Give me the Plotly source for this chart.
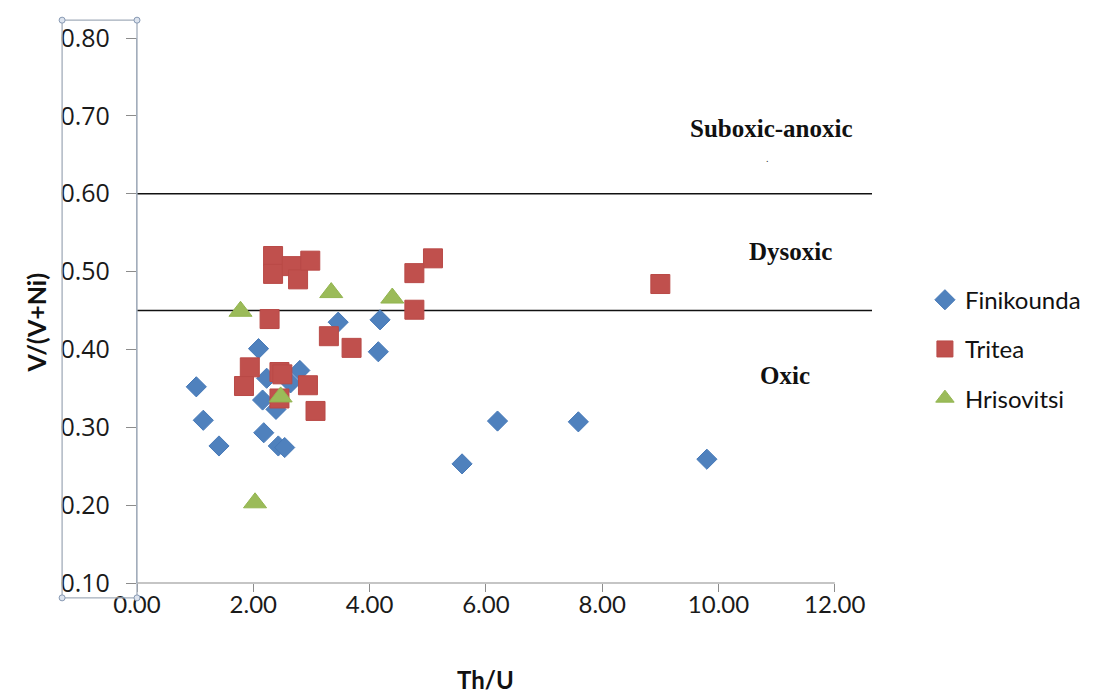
import plotly.graph_objects as go

# ---------------- data ----------------
fin_x = [1.02, 1.14, 1.41, 2.09, 2.16, 2.18, 2.43, 2.54, 2.80, 2.64, 2.23, 2.39, 3.46, 4.18, 4.15, 5.59, 6.20, 7.59, 9.80]
fin_y = [0.352, 0.309, 0.276, 0.401, 0.335, 0.293, 0.276, 0.274, 0.373, 0.357, 0.363, 0.323, 0.435, 0.438, 0.397, 0.253, 0.308, 0.307, 0.259]

tri_x = [2.34, 2.34, 2.66, 2.77, 2.98, 5.09, 4.77, 4.77, 2.28, 3.30, 3.69, 1.94, 1.84, 2.45, 2.50, 2.45, 2.94, 3.07, 9.00]
tri_y = [0.520, 0.497, 0.507, 0.490, 0.514, 0.517, 0.498, 0.451, 0.439, 0.417, 0.402, 0.377, 0.353, 0.371, 0.368, 0.337, 0.354, 0.321, 0.484]

hri_x = [1.78, 3.34, 4.39, 2.47, 2.03]
hri_y = [0.449, 0.473, 0.466, 0.339, 0.203]

thresholds = [0.60, 0.45]
zone_labels = ["Suboxic-anoxic", "Dysoxic", "Oxic"]
zone_x = [10.92, 11.24, 11.14]
zone_y = [0.684, 0.526, 0.367]

x_ticks = [0, 2, 4, 6, 8, 10, 12]
y_ticks = [0.10, 0.20, 0.30, 0.40, 0.50, 0.60, 0.70, 0.80]

# ---------------- figure ----------------
OFF = 8  # page body margin
W, H = 1098 - OFF, 695 - OFF
L, T = 137 - OFF, 33 - OFF
R = W - (873 - OFF)
B = H - (583 - OFF)
plot_w = W - L - R
plot_h = H - T - B


def px_x(p):
    return (p - OFF - L) / plot_w


def px_y(p):
    return (H - B - (p - OFF)) / plot_h


fig = go.Figure()

fig.add_trace(go.Scatter(
    x=fin_x, y=fin_y, mode="markers", name="Finikounda", legendgroup="a",
    marker=dict(symbol="diamond", size=15.5, color="#4F81BD",
                line=dict(color="#4679B8", width=1))))
fig.add_trace(go.Scatter(
    x=tri_x, y=tri_y, mode="markers", name="Tritea", legendgroup="b",
    marker=dict(symbol="square", size=19, color="#C0504D",
                line=dict(color="#B94A47", width=1))))
fig.add_trace(go.Scatter(
    x=hri_x, y=hri_y, mode="markers", name="Hrisovitsi", legendgroup="c",
    marker=dict(symbol="triangle-up", size=20, color="#9BBB59",
                line=dict(color="#93B550", width=1))))

shapes = []
for t in thresholds:
    shapes.append(dict(type="line", xref="x", yref="y", x0=0, x1=12.64, y0=t, y1=t,
                       line=dict(color="#111111", width=1.5), layer="below"))
# x axis line (ends at 12)
shapes.append(dict(type="line", xref="x", yref="paper", x0=0, x1=12, y0=0, y1=0,
                   line=dict(color="#8C8C8C", width=1.2)))
# selection box around the y tick labels
bx0 = px_x(62)
by0 = px_y(598)
by1 = px_y(15)
shapes.append(dict(type="rect", xref="paper", yref="paper", x0=bx0, x1=0, y0=by0, y1=by1,
                   line=dict(color="#A3ADBB", width=1.3)))
for cx in (bx0, 0):
    for cy in (by0, by1):
        shapes.append(dict(type="circle", xref="paper", yref="paper",
                           xsizemode="pixel", ysizemode="pixel",
                           xanchor=cx, yanchor=cy, x0=-3, x1=3, y0=-3, y1=3,
                           line=dict(color="#8799B3", width=1), fillcolor="#DCE3EE"))

annotations = []
for txt, zx, zy in zip(zone_labels, zone_x, zone_y):
    annotations.append(dict(x=zx, y=zy, xref="x", yref="y", text="<b>%s</b>" % txt,
                            xanchor="center", yanchor="middle",
                            showarrow=False, font=dict(family="Liberation Serif", size=25, color="#111111")))
annotations.append(dict(x=10.85, y=0.645, xref="x", yref="y", text=".", showarrow=False,
                        xanchor="center", yanchor="middle",
                        font=dict(family="Liberation Serif", size=10, color="#333333")))
annotations.append(dict(x=px_x(36), y=px_y(320), xref="paper", yref="paper",
                        text="<b>V/(V+Ni)</b>", textangle=-90, showarrow=False,
                        xanchor="center", yanchor="middle",
                        font=dict(family="Lato", size=25, color="#111111")))
annotations.append(dict(x=px_x(486), y=px_y(680), xref="paper", yref="paper",
                        text="<b>Th/U</b>", showarrow=False,
                        xanchor="center", yanchor="middle",
                        font=dict(family="Lato", size=24, color="#111111")))

fig.update_layout(
    width=W, height=H,
    margin=dict(l=L, r=R, t=T, b=B, pad=0),
    paper_bgcolor="white", plot_bgcolor="white",
    showlegend=True,
    legend=dict(x=px_x(926), xanchor="left", y=px_y(347), yanchor="middle",
                font=dict(family="Lato", size=24, color="#111111"),
                tracegroupgap=15, bgcolor="rgba(0,0,0,0)"),
    shapes=shapes,
    annotations=annotations,
    xaxis=dict(range=[0, 12.64], tickvals=x_ticks, ticktext=["%.2f" % v for v in x_ticks],
               showgrid=False, zeroline=False, showline=False,
               ticks="outside", ticklen=8, tickcolor="#8C8C8C", tickwidth=1.2,
               ticklabelstandoff=-8,
               tickfont=dict(family="Lato", size=24, color="#1a1a1a")),
    yaxis=dict(range=[0.10, 0.80], tickvals=y_ticks, ticktext=["%.2f" % v for v in y_ticks],
               showgrid=False, zeroline=False, showline=True, linecolor="#A3ADBB", linewidth=1.3,
               ticks="outside", ticklen=10, tickcolor="#8C8C8C", tickwidth=1.2,
               ticklabelstandoff=11,
               tickfont=dict(family="Open Sans", size=25, color="#1a1a1a")),
)

fig.write_html("out.html")
